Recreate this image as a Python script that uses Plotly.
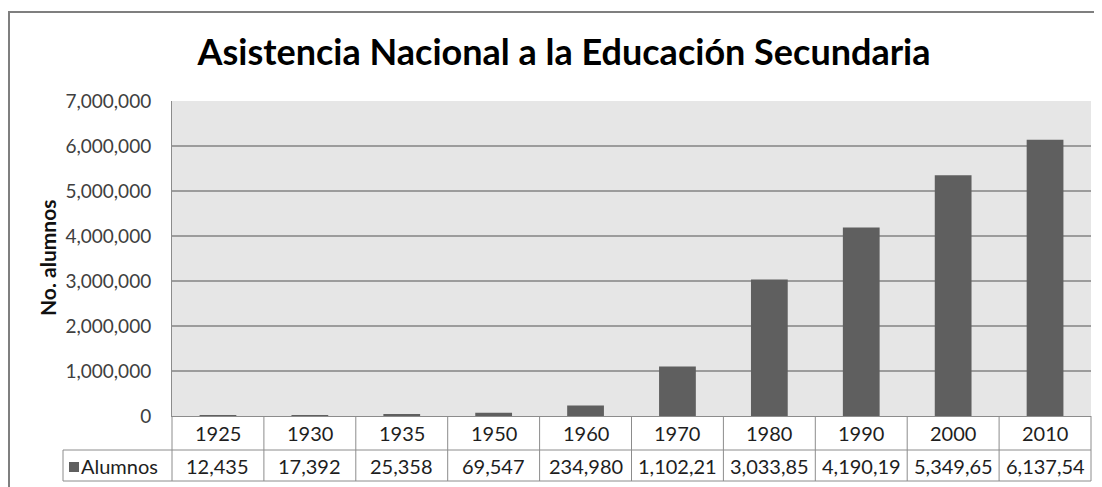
import plotly.graph_objects as go

years = ["1925", "1930", "1935", "1950", "1960", "1970", "1980", "1990", "2000", "2010"]
alumnos = [12435, 17392, 25358, 69547, 234980, 1102217, 3033856, 4190190, 5349659, 6137546]
series_name = "Alumnos"
title_text = "Asistencia Nacional a la Educación Secundaria"
y_title = "No. alumnos"
y_ticks = [0, 1000000, 2000000, 3000000, 4000000, 5000000, 6000000, 7000000]

BAR = "#5f5f5f"
GRID = "#9c9c9c"
TLINE = "#8c8c8c"
FONT = "Lato"
TXT = "#1e1e1e"

# page has an 8px body margin; figure origin sits at screen (8, 8)
OFF = 8
W, H = 1102 - OFF, 487 - OFF
# plot area in screen pixels
P_L, P_R, P_T, P_B = 172, 1091, 101, 416
ML, MR, MT, MB = P_L - OFF, W - (P_R - OFF), P_T - OFF, H - (P_B - OFF)
PW = P_R - P_L
PH = P_B - P_T


def px_x(p):
    return (p - P_L) / PW


def px_y(p):
    return (P_B - p) / PH


fig = go.Figure(go.Bar(x=years, y=alumnos, marker=dict(color=BAR, line=dict(width=0)),
                       name=series_name, showlegend=False))

n = len(years)
shapes = []
y_row1 = px_y(450)
y_row2 = px_y(481)
x_leg = px_x(63)
for k in range(n + 1):
    shapes.append(dict(type="line", xref="paper", yref="paper", x0=k / n, x1=k / n,
                       y0=0, y1=y_row2, line=dict(color=TLINE, width=1)))
shapes.append(dict(type="line", xref="paper", yref="paper", x0=x_leg, x1=1, y0=y_row1, y1=y_row1,
                   line=dict(color=TLINE, width=1)))
shapes.append(dict(type="line", xref="paper", yref="paper", x0=x_leg, x1=1, y0=y_row2, y1=y_row2,
                   line=dict(color=TLINE, width=1)))
shapes.append(dict(type="line", xref="paper", yref="paper", x0=x_leg, x1=x_leg, y0=y_row1, y1=y_row2,
                   line=dict(color=TLINE, width=1)))
# legend swatch
shapes.append(dict(type="rect", xref="paper", yref="paper", x0=px_x(69), x1=px_x(79),
                   y0=px_y(472), y1=px_y(462), fillcolor=BAR, line=dict(width=0)))
# outer chart border: left and top edges only
shapes.append(dict(type="path", xref="paper", yref="paper",
                   path=f"M {px_x(9)},{px_y(490)} L {px_x(9)},{px_y(12)} L {px_x(1101)},{px_y(12)}",
                   line=dict(color="#7f7f7f", width=2)))

annotations = []
for i, (yr, v) in enumerate(zip(years, alumnos)):
    annotations.append(dict(x=i, xref="x", y=px_y(433), yref="paper", yanchor="middle",
                            text=yr, showarrow=False, font=dict(family=FONT, size=20, color=TXT)))
    label = f"{v:,}"[:8]
    annotations.append(dict(x=i, xref="x", y=px_y(466), yref="paper", yanchor="middle",
                            text=label, showarrow=False, font=dict(family=FONT, size=20, color=TXT)))
annotations.append(dict(x=px_x(79), xref="paper", y=px_y(466), yref="paper", xanchor="left", yanchor="middle",
                        text=series_name, showarrow=False, font=dict(family=FONT, size=20, color=TXT)))
annotations.append(dict(x=px_x(47), xref="paper", y=px_y(258), yref="paper", xanchor="center", yanchor="middle",
                        text=f"<b>{y_title}</b>", textangle=-90, showarrow=False,
                        font=dict(family=FONT, size=21, color="#111111")))

fig.update_layout(
    width=W, height=H,
    margin=dict(l=ML, r=MR, t=MT, b=MB),
    paper_bgcolor="white",
    plot_bgcolor="#e6e6e6",
    bargap=0.6,
    title=dict(text=f"<b>{title_text}</b>", x=(564 - OFF) / W, xanchor="center",
               y=1 - (52 - OFF) / H, yanchor="middle",
               font=dict(family=FONT, size=36, color="#000000")),
    xaxis=dict(type="category", showticklabels=False, showgrid=False, ticks="",
               showline=True, linecolor=TLINE, linewidth=1, range=[-0.5, n - 0.5]),
    yaxis=dict(range=[0, 7000000], tickvals=y_ticks, tickformat=",d", showgrid=True,
               gridcolor=GRID, gridwidth=1.5, zeroline=False, showline=True, linecolor=TLINE,
               linewidth=1, ticks="", ticklabelstandoff=16,
               tickfont=dict(family=FONT, size=19, color="#404040")),
    shapes=shapes,
    annotations=annotations,
)

fig.write_html("out.html")
